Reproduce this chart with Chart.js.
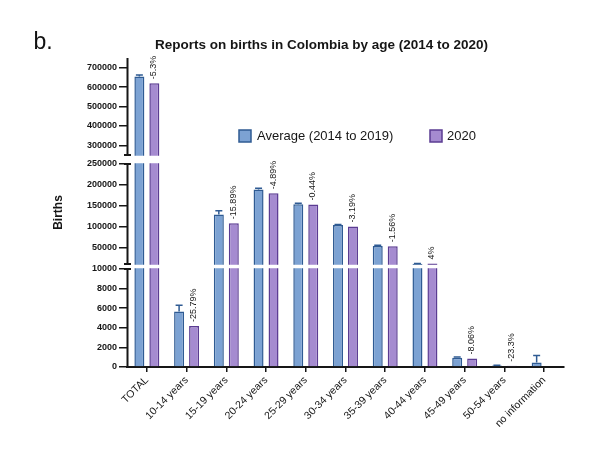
<!DOCTYPE html>
<html>
<head>
<meta charset="utf-8">
<script src="https://cdn.jsdelivr.net/npm/chart.js@4.4.0/dist/chart.umd.min.js"></script>
<style>
  body { margin: 0; background: #fff; }
  #wrap { position: relative; width: 611px; height: 462px; }
  #panel { position: absolute; left: 33.5px; top: 30px; font: 23px/23px "Liberation Sans", Arial, sans-serif; color: #111; }
</style>
</head>
<body>
<div id="wrap">
  <canvas id="births" width="611" height="462"></canvas>
  <div id="panel">b.</div>
</div>
<script>
const categories = ['TOTAL', '10-14 years', '15-19 years', '20-24 years', '25-29 years', '30-34 years',
  '35-39 years', '40-44 years', '45-49 years', '50-54 years', 'no information'];
const average = [654000, 5650, 128500, 189000, 153500, 103500, 53500, 10800, 950, 160, 470];
const averageErr = [9000, 650, 9500, 3000, 2500, 1500, 1500, 400, 60, 30, 700];
const births2020 = [619300, 4193, 108080, 179760, 152825, 100200, 52665, 11230, 873, 123, null];
const changeLabels = ['-5.3%', '-25.79%', '-15.89%', '-4.89%', '-0.44%', '-3.19%', '-1.56%', '4%', '-8.06%', '-23.3%', ''];
const yTicks = [0, 2000, 4000, 6000, 8000, 10000, 50000, 100000, 150000, 200000, 250000,
  300000, 400000, 500000, 600000, 700000];

// broken y axis: value range of each piece and where it sits (fraction of plot height)
const BREAKS = [
  { min: 0, max: 10000, from: 0, to: 0.3172 },
  { min: 10000, max: 250000, from: 0.3333, to: 0.657 },
  { min: 250000, max: 750000, from: 0.6861, to: 1 }
];

const FONT = '"Liberation Sans", Arial, sans-serif';
const INK = '#161616';

class BrokenScale extends Chart.LinearScale {
  getPixelForValue(value) {
    let s = BREAKS[BREAKS.length - 1];
    for (const seg of BREAKS) { if (value <= seg.max) { s = seg; break; } }
    const v = Math.min(Math.max(value, s.min), s.max);
    const f = s.from + (v - s.min) / (s.max - s.min) * (s.to - s.from);
    return this.bottom - f * (this.bottom - this.top);
  }
  getValueForPixel(pixel) {
    const f = (this.bottom - pixel) / (this.bottom - this.top);
    for (const s of BREAKS) {
      if (f <= s.to) return s.min + Math.max(0, f - s.from) / (s.to - s.from) * (s.max - s.min);
    }
    return BREAKS[BREAKS.length - 1].max;
  }
}
BrokenScale.id = 'broken';
BrokenScale.defaults = Chart.LinearScale.defaults;
Chart.register(BrokenScale);

const frac2px = (area, f) => area.bottom - f * (area.bottom - area.top);

const extras = {
  id: 'extras',
  afterDatasetsDraw(chart) {
    const ctx = chart.ctx;
    const area = chart.chartArea;
    const y = chart.scales.y;

    // error bars (upper half) on the average bars
    const m0 = chart.getDatasetMeta(0);
    ctx.save();
    ctx.strokeStyle = '#2f5b93';
    ctx.lineWidth = 1.5;
    m0.data.forEach((bar, i) => {
      if (average[i] == null) return;
      const top = y.getPixelForValue(average[i] + averageErr[i]);
      ctx.beginPath();
      ctx.moveTo(bar.x, bar.y);
      ctx.lineTo(bar.x, top);
      ctx.moveTo(bar.x - 3.5, top);
      ctx.lineTo(bar.x + 3.5, top);
      ctx.stroke();
    });
    ctx.restore();

    // white gaps between the axis pieces
    ctx.save();
    ctx.fillStyle = '#fff';
    for (let i = 0; i < BREAKS.length - 1; i++) {
      const lo = frac2px(area, BREAKS[i].to);
      const hi = frac2px(area, BREAKS[i + 1].from);
      ctx.fillRect(area.left - 3, hi + 0.75, area.right - area.left + 6, lo - hi - 1.5);
    }
    ctx.restore();

    // y axis line in pieces with small caps at the breaks
    const ax = area.left + 0.5;
    ctx.save();
    ctx.strokeStyle = INK;
    ctx.lineWidth = 2;
    BREAKS.forEach((s, i) => {
      const b = frac2px(area, s.from);
      const t = frac2px(area, s.to);
      ctx.beginPath();
      ctx.moveTo(ax, b + (i === 0 ? 1 : 0));
      ctx.lineTo(ax, t);
      if (i < BREAKS.length - 1) { ctx.moveTo(ax - 3.5, t); ctx.lineTo(ax + 3.5, t); }
      if (i > 0) { ctx.moveTo(ax - 3.5, b); ctx.lineTo(ax + 3.5, b); }
      ctx.stroke();
    });
    ctx.restore();

    // percentage change labels above the 2020 bars
    const m1 = chart.getDatasetMeta(1);
    ctx.save();
    ctx.fillStyle = INK;
    ctx.font = '9px ' + FONT;
    ctx.textAlign = 'left';
    ctx.textBaseline = 'middle';
    m1.data.forEach((bar, i) => {
      if (!changeLabels[i] || births2020[i] == null) return;
      ctx.save();
      ctx.translate(bar.x - 0.5, bar.y - 4);
      ctx.rotate(-Math.PI / 2);
      ctx.fillText(changeLabels[i], 0, 0);
      ctx.restore();
    });
    ctx.restore();
  },
  afterDraw(chart) {
    // legend inside the plot
    const ctx = chart.ctx;
    const spots = [{ x: 239, tx: 257 }, { x: 430, tx: 447 }];
    ctx.save();
    ctx.font = '13px ' + FONT;
    ctx.textBaseline = 'middle';
    ctx.textAlign = 'left';
    chart.data.datasets.forEach((ds, i) => {
      const p = spots[i];
      ctx.fillStyle = ds.backgroundColor;
      ctx.fillRect(p.x, 130, 12, 12);
      ctx.strokeStyle = ds.borderColor;
      ctx.lineWidth = 1.5;
      ctx.strokeRect(p.x, 130, 12, 12);
      ctx.fillStyle = INK;
      ctx.fillText(ds.label, p.tx, 136.5);
    });
    ctx.restore();
  }
};

new Chart(document.getElementById('births'), {
  type: 'bar',
  data: {
    labels: categories,
    datasets: [
      {
        label: 'Average (2014 to 2019)',
        data: average,
        backgroundColor: '#7ca2d3',
        borderColor: '#2f5b93',
        borderWidth: 1.5,
        borderSkipped: 'start'
      },
      {
        label: '2020',
        data: births2020,
        backgroundColor: '#a58bd0',
        borderColor: '#5b3c92',
        borderWidth: 1.5,
        borderSkipped: 'start'
      }
    ]
  },
  options: {
    responsive: false,
    animation: false,
    categoryPercentage: 0.754,
    barPercentage: 0.667,
    layout: { padding: { left: 79, right: 47, top: 0, bottom: 0 } },
    plugins: {
      legend: { display: false },
      tooltip: { enabled: false },
      title: {
        display: true,
        text: 'Reports on births in Colombia by age (2014 to 2020)',
        color: INK,
        font: { family: FONT, size: 13.5, weight: 'bold' },
        padding: { top: 37.4, bottom: 4.4 }
      }
    },
    scales: {
      x: {
        grid: { display: true, drawOnChartArea: false, offset: false, tickLength: 5, color: INK, lineWidth: 1.5 },
        border: { display: true, color: INK, width: 2 },
        ticks: { color: INK, font: { family: FONT, size: 10.5 }, minRotation: 45, maxRotation: 45, padding: 2, autoSkip: false },
        afterFit: (s) => { s.height = 95; }
      },
      y: {
        type: 'broken',
        min: 0,
        max: 750000,
        afterBuildTicks: (s) => { s.ticks = yTicks.map(v => ({ value: v })); },
        grid: { display: true, drawOnChartArea: false, tickLength: 8, color: INK, lineWidth: 1.5 },
        border: { display: false },
        ticks: { color: INK, font: { family: FONT, size: 9, weight: 'bold' }, padding: 2, autoSkip: false,
          callback: (v) => String(v) },
        title: {
          display: true,
          text: 'Births',
          color: INK,
          font: { family: FONT, size: 12, weight: 'bold' },
          padding: { top: -28, bottom: 0 }
        },
        afterFit: (s) => { s.width = 48; }
      }
    }
  },
  plugins: [extras]
});
</script>
</body>
</html>
